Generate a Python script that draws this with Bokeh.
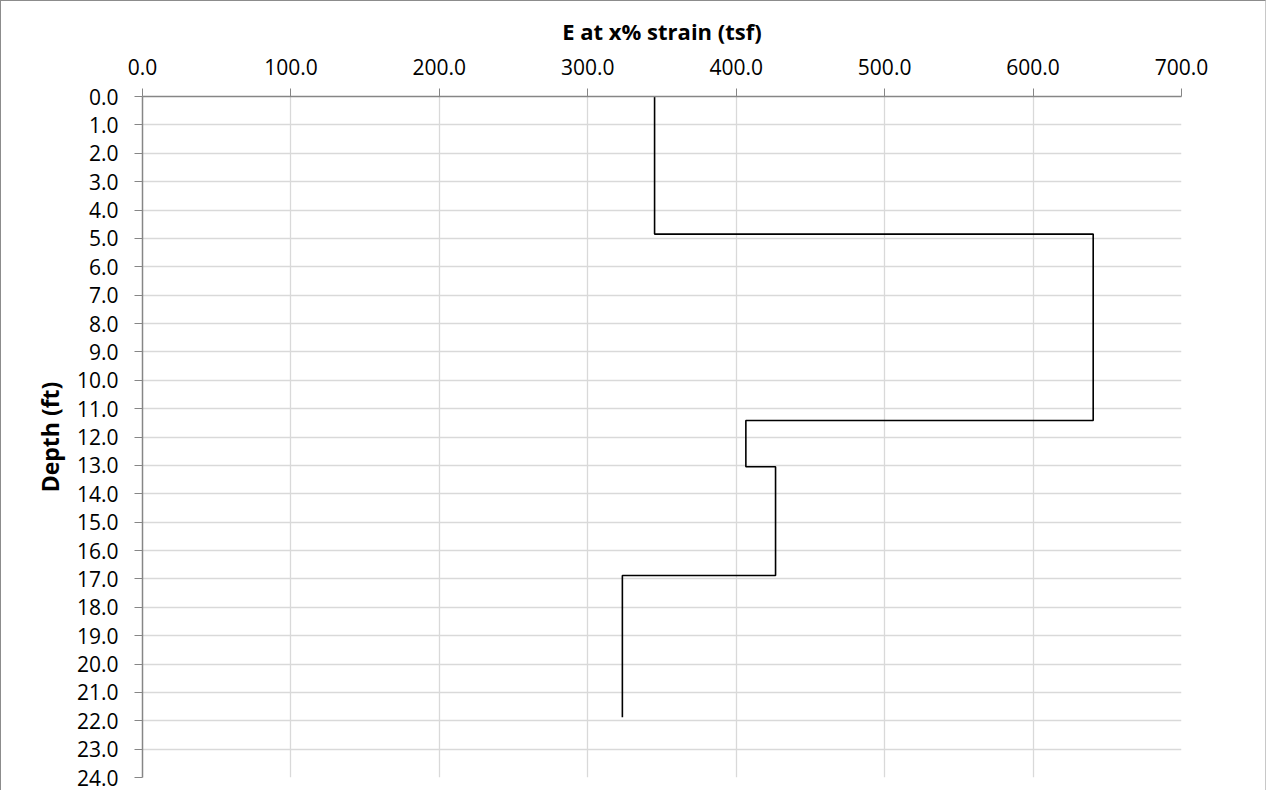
from bokeh.plotting import figure
from bokeh.models import Range1d, PrintfTickFormatter, FixedTicker, ColumnDataSource
from bokeh.embed import file_html
from bokeh.resources import INLINE

# Layer data
depth_top = [0.0, 4.85, 11.42, 13.05, 16.88]
depth_bottom = [4.85, 11.42, 13.05, 16.88, 21.88]
e_values = [345.0, 640.5, 406.5, 426.5, 323.3]

x_ticks = [0, 100, 200, 300, 400, 500, 600, 700]
y_ticks = list(range(0, 25))

x_title = "E at x% strain (tsf)"
y_title = "Depth (ft)"

xs, ys = [], []
for top, bot, e in zip(depth_top, depth_bottom, e_values):
    xs += [e, e]
    ys += [top, bot]
src = ColumnDataSource(dict(x=xs, y=ys))

FONT = "Open Sans"
AXIS_C = "#868686"
GRID_C = "#d9d9d9"

W, H = 1266, 790
p = figure(width=W, height=H, output_backend="svg", toolbar_location=None,
           x_axis_location="above",
           x_range=Range1d(0, 700), y_range=Range1d(24, 0),
           min_border_left=141, min_border_top=95, min_border_right=86, min_border_bottom=14)
p.styles = {"border-top": "1px solid #8c8c8c", "border-left": "1px solid #8c8c8c",
            "border-right": "1px solid #c8c8c8"}
p.outline_line_color = None
p.background_fill_color = "white"
p.border_fill_color = "white"

p.line("x", "y", source=src, line_color="black", line_width=1.6)

xa = p.xaxis[0]
xa.ticker = FixedTicker(ticks=x_ticks)
xa.formatter = PrintfTickFormatter(format="%.1f")
xa.axis_label = x_title
xa.axis_label_text_font = FONT
xa.axis_label_text_font_style = "bold"
xa.axis_label_text_font_size = "22px"
xa.axis_label_text_color = "black"
xa.axis_label_standoff = 10
xa.major_label_text_font = FONT
xa.major_label_text_font_size = "21px"
xa.major_label_text_color = "black"
xa.major_label_standoff = 14
xa.axis_line_color = AXIS_C
xa.axis_line_width = 1.5
xa.major_tick_line_color = AXIS_C
xa.major_tick_out = 8
xa.major_tick_in = 0
xa.minor_tick_line_color = None

ya = p.yaxis[0]
ya.ticker = FixedTicker(ticks=y_ticks)
ya.formatter = PrintfTickFormatter(format="%.1f")
ya.axis_label = y_title
ya.axis_label_text_font = FONT
ya.axis_label_text_font_style = "bold"
ya.axis_label_text_font_size = "23px"
ya.axis_label_text_color = "black"
ya.axis_label_standoff = 8
ya.major_label_text_font = FONT
ya.major_label_text_font_size = "21px"
ya.major_label_text_color = "black"
ya.major_label_standoff = 16
ya.axis_line_color = AXIS_C
ya.axis_line_width = 1.5
ya.major_tick_line_color = AXIS_C
ya.major_tick_out = 8
ya.major_tick_in = 0
ya.minor_tick_line_color = None

p.xgrid.ticker = FixedTicker(ticks=x_ticks)
p.ygrid.ticker = FixedTicker(ticks=y_ticks)
p.xgrid.grid_line_color = GRID_C
p.ygrid.grid_line_color = GRID_C
p.xgrid.grid_line_width = 1.3
p.ygrid.grid_line_width = 1.3

open("out.html", "w").write(file_html(p, INLINE))
